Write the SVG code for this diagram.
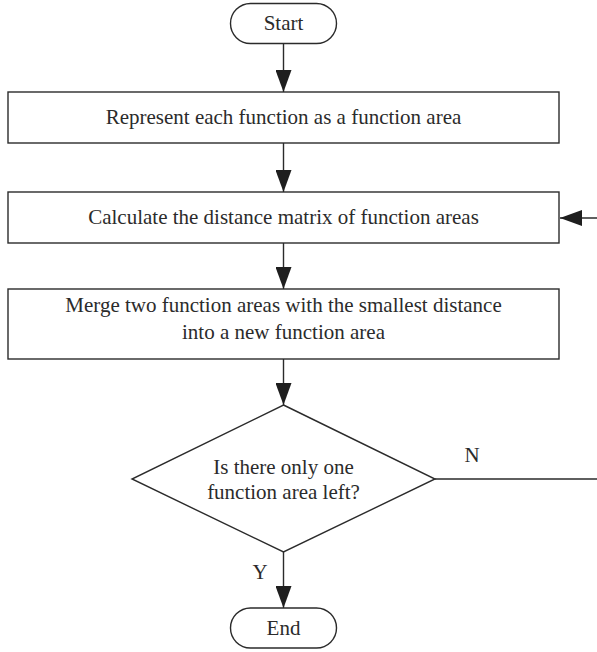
<svg xmlns="http://www.w3.org/2000/svg" width="597" height="652" viewBox="0 0 597 652">
  <style>
    .shape { fill: #ffffff; stroke: #2b2b2b; stroke-width: 1.4; }
    .edge { fill: none; stroke: #2b2b2b; stroke-width: 1.4; }
    .label { font-family: "Liberation Serif", "Times New Roman", serif; font-size: 21px; fill: #2b2b2b; text-anchor: middle; }
  </style>
  <defs>
    <marker id="arrow" viewBox="0 0 22 16" refX="22" refY="8" markerWidth="22" markerHeight="16" markerUnits="userSpaceOnUse" orient="auto">
      <path d="M0,0 L22,8 L0,16 Z" fill="#1e1e1e"/>
    </marker>
  </defs>

  <g id="connectors">
    <line class="edge" x1="283.5" y1="44" x2="283.5" y2="92" marker-end="url(#arrow)"/>
    <line class="edge" x1="283.5" y1="143" x2="283.5" y2="192" marker-end="url(#arrow)"/>
    <line class="edge" x1="283.5" y1="243" x2="283.5" y2="289" marker-end="url(#arrow)"/>
    <line class="edge" x1="283.5" y1="359" x2="283.5" y2="405" marker-end="url(#arrow)"/>
    <line class="edge" x1="283.5" y1="552" x2="283.5" y2="608" marker-end="url(#arrow)"/>
    <!-- loop back from the decision "N" branch to the distance matrix step -->
    <polyline class="edge" points="435,479 599,479 599,218 560,218" marker-end="url(#arrow)"/>
    <text class="label" x="472" y="462">N</text>
    <text class="label" x="260" y="579">Y</text>
  </g>

  <g id="start">
    <rect class="shape" x="230.5" y="3.5" width="106" height="40" rx="20" ry="20"/>
    <text class="label" x="283.5" y="30">Start</text>
  </g>

  <g id="represent">
    <rect class="shape" x="8" y="92" width="551" height="51"/>
    <text class="label" x="283.5" y="124">Represent each function as a function area</text>
  </g>

  <g id="distance">
    <rect class="shape" x="8" y="192" width="551" height="51"/>
    <text class="label" x="283.5" y="224">Calculate the distance matrix of function areas</text>
  </g>

  <g id="merge">
    <rect class="shape" x="8" y="289" width="551" height="70"/>
    <text class="label" x="283.5" y="312">Merge two function areas with the smallest distance</text>
    <text class="label" x="283.5" y="339">into a new function area</text>
  </g>

  <g id="decision">
    <polygon class="shape" points="283.5,405 435,479 283.5,552 132,479"/>
    <text class="label" x="283.5" y="474">Is there only one</text>
    <text class="label" x="283.5" y="499">function area left?</text>
  </g>

  <g id="end">
    <rect class="shape" x="230.5" y="608" width="106" height="40" rx="20" ry="20"/>
    <text class="label" x="283.5" y="635">End</text>
  </g>
</svg>
